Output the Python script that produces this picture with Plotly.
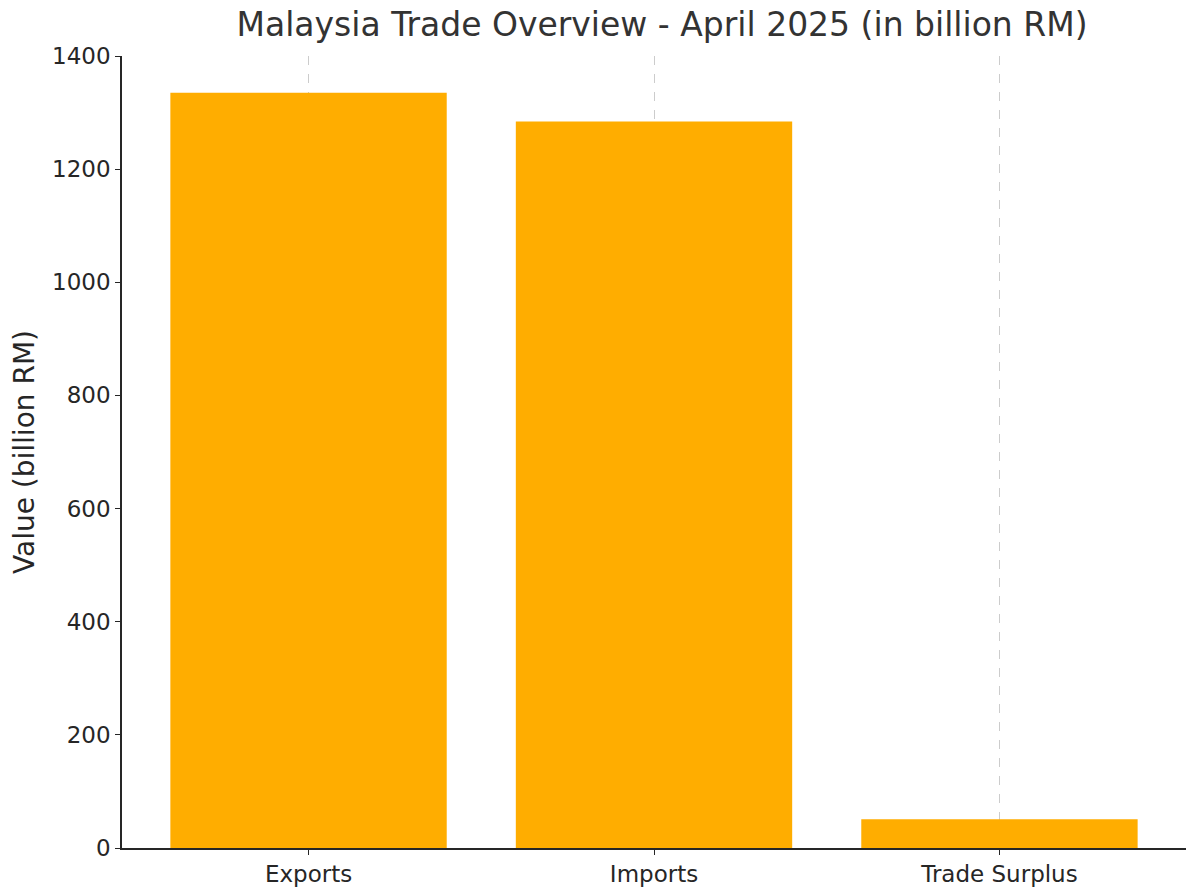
import plotly.graph_objects as go

categories = ["Exports", "Imports", "Trade Surplus"]
values = [1335, 1284, 51]

fig = go.Figure()
fig.add_trace(go.Bar(x=categories, y=values, marker=dict(color="#FFAD00", line=dict(width=0)), width=0.8))

fig.update_layout(
    title=dict(text="Malaysia Trade Overview - April 2025 (in billion RM)", x=0.545, xanchor="center",
               y=0.995, yanchor="top", font=dict(size=33, color="#333333")),
    font=dict(family="DejaVu Sans", size=23, color="#262626"),
    width=1200, height=896,
    plot_bgcolor="white", paper_bgcolor="white",
    margin=dict(l=114, r=22, t=48, b=56),
    showlegend=False,
    bargap=0.2,
)
fig.update_xaxes(showgrid=True, gridcolor="#cccccc", griddash="dash", gridwidth=1,
                 layer="above traces",
                 showline=True, linecolor="#262626", linewidth=1.5, automargin=False,
                 ticks="outside", ticklen=5, tickcolor="#262626", range=[-0.54, 2.54])
fig.update_yaxes(range=[0, 1400], dtick=200, showgrid=False, zeroline=False,
                 showline=True, linecolor="#262626", linewidth=1.5, automargin=False,
                 ticks="outside", ticklen=5, tickcolor="#262626",
                 title=dict(text="Value (billion RM)", standoff=12))

fig.write_html("out.html")
